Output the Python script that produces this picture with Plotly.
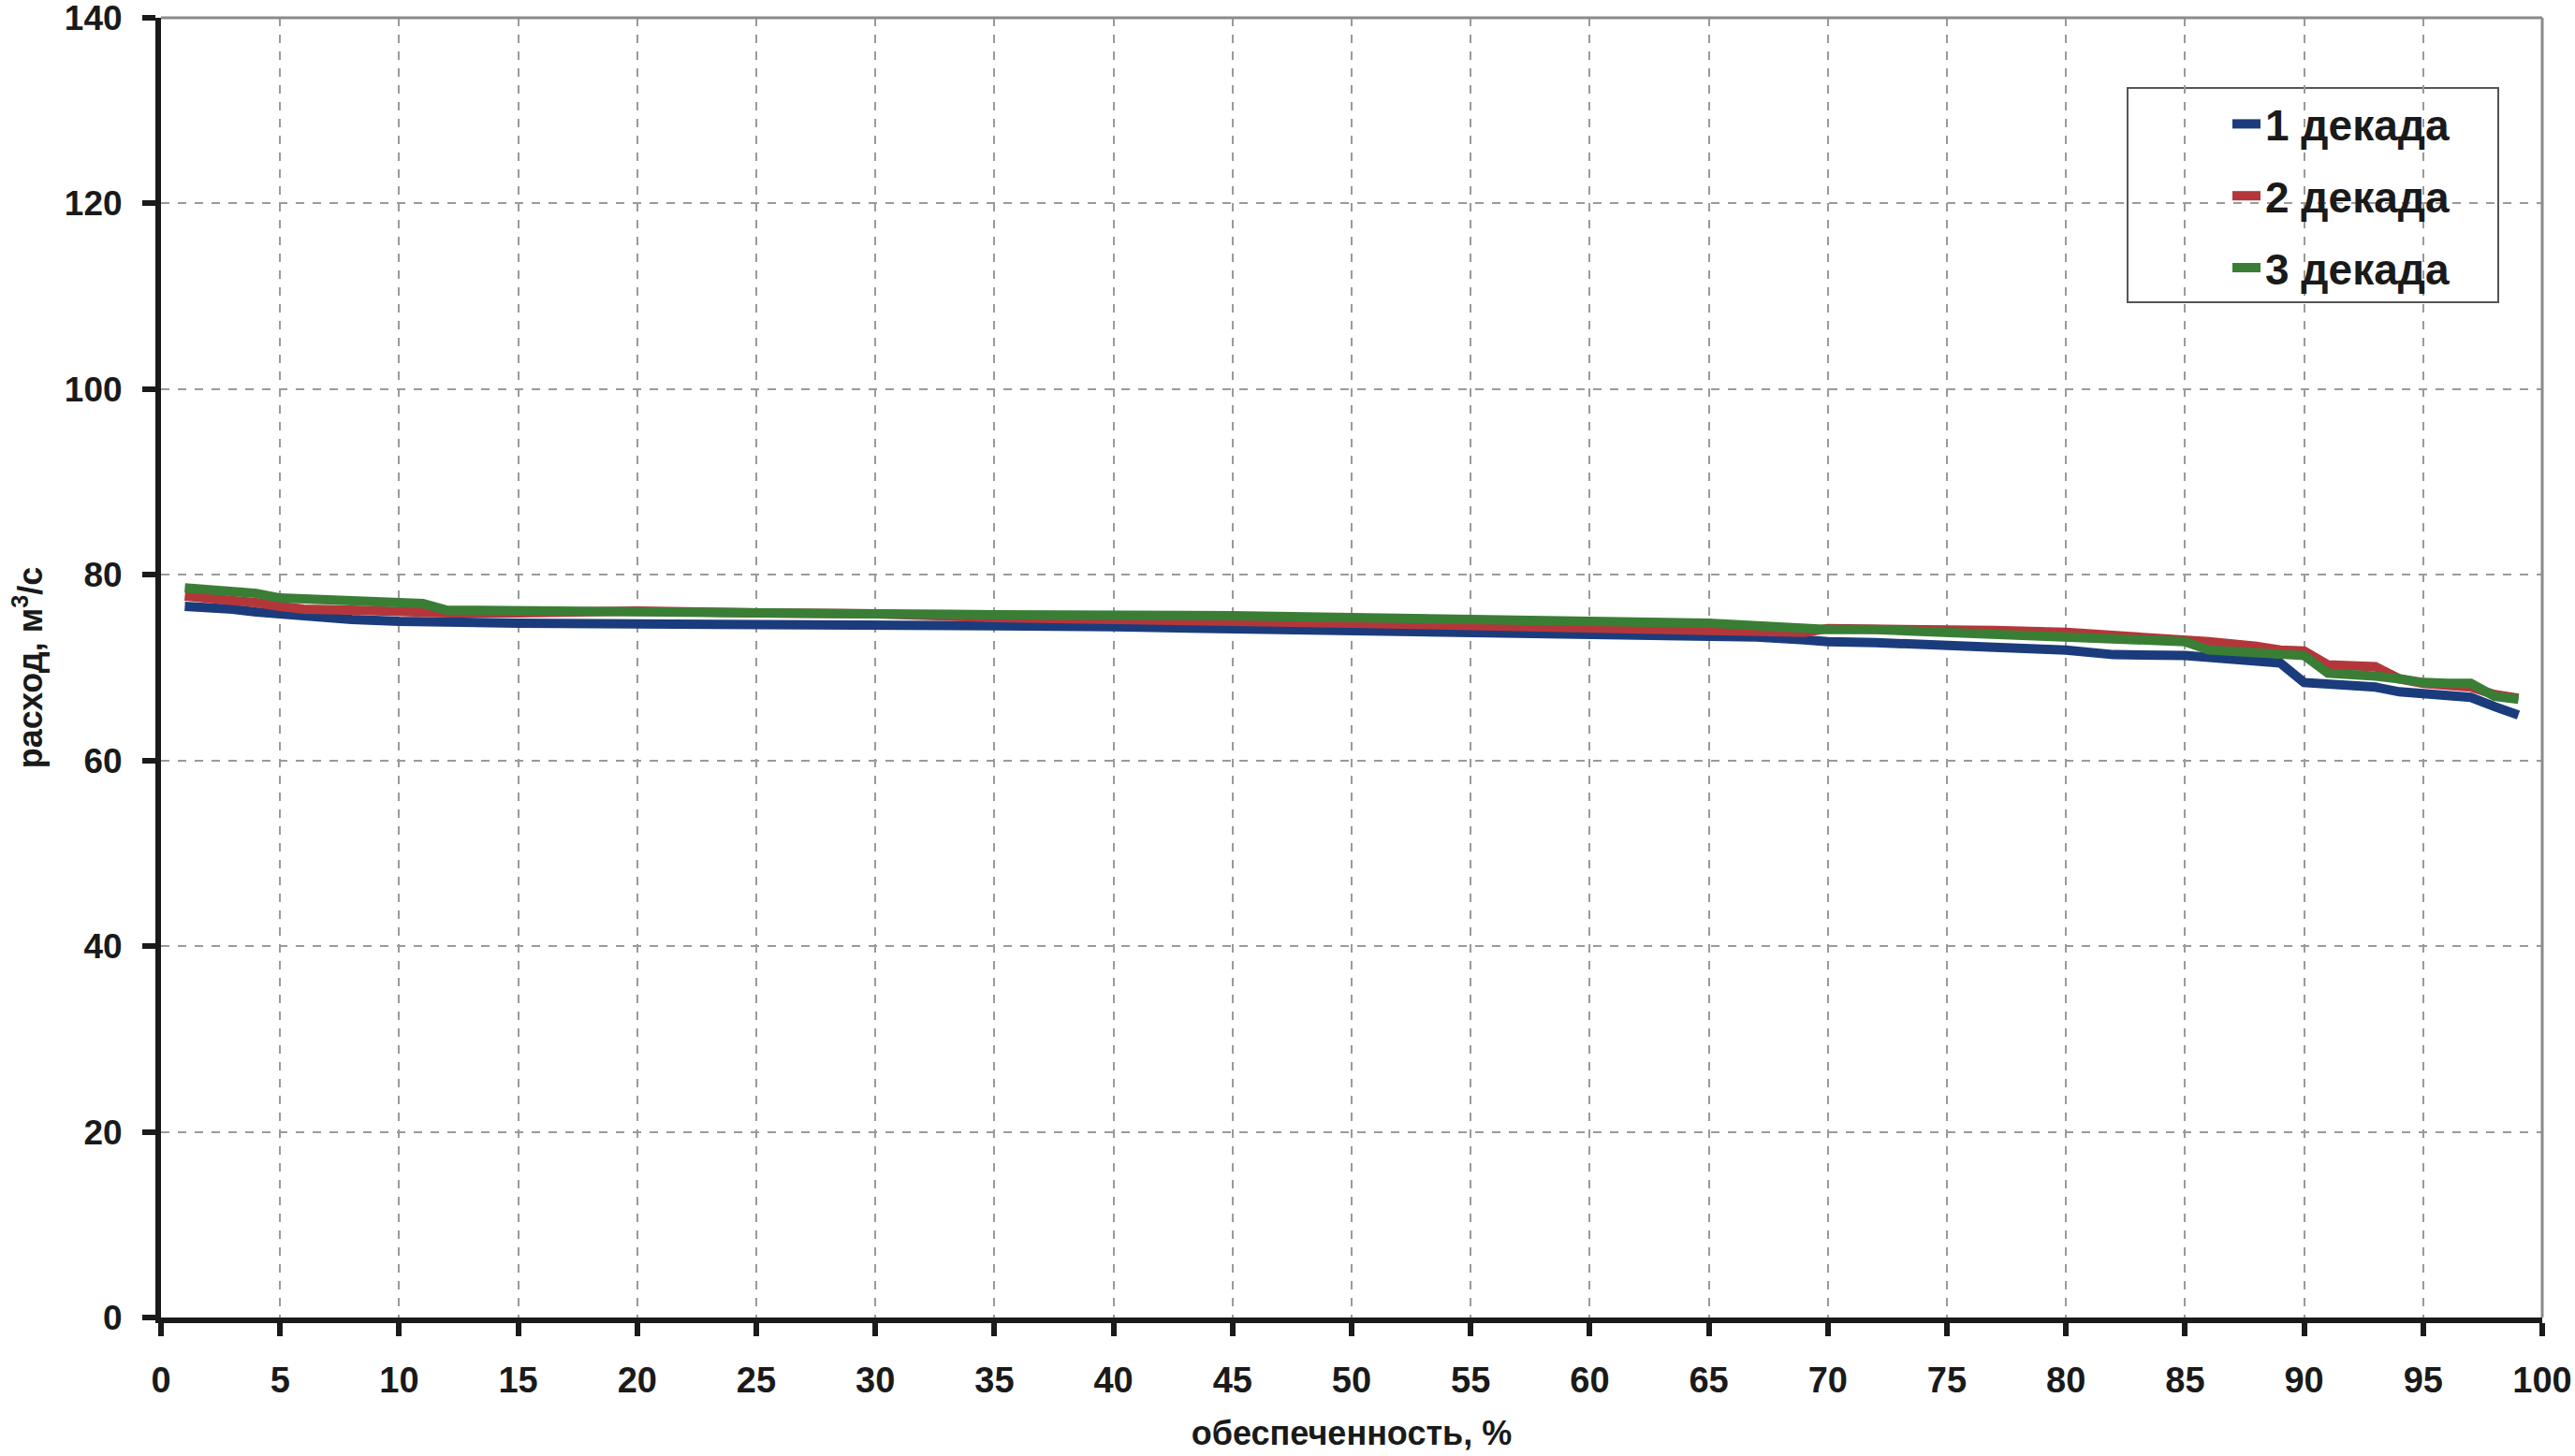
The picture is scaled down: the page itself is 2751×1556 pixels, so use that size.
import plotly.graph_objects as go

# обеспеченность, %
x_pct = [1, 2, 3, 4, 5, 6, 8, 10, 11, 12, 15, 20, 25, 30, 35, 40, 45, 50, 55, 60,
         65, 67, 69, 70, 72, 75, 77, 80, 82, 85, 86, 88, 89, 90, 91, 92, 93, 94,
         95, 96, 97, 98, 99]

dec1 = [76.6, 76.5, 76.3, 76.0, 75.8, 75.4, 75.2, 75.0, 75.0, 74.9, 74.8, 74.7, 74.7,
        74.6, 74.5, 74.4, 74.2, 74.1, 74.0, 73.7, 73.4, 73.3, 73.0, 72.8, 72.7, 72.5,
        72.2, 71.9, 71.4, 71.3, 71.1, 70.7, 70.5, 68.4, 68.2, 68.1, 67.9, 67.4, 67.2,
        67.0, 66.8, 65.8, 64.9]

dec2 = [77.7, 77.5, 77.2, 77.0, 76.6, 76.3, 76.2, 76.0, 75.9, 75.9, 75.9, 76.1, 75.9,
        75.8, 75.4, 75.1, 75.0, 74.8, 74.5, 74.3, 73.9, 73.8, 73.8, 74.2, 74.2, 74.0,
        74.0, 73.8, 73.5, 73.1, 72.8, 72.3, 71.9, 71.8, 70.3, 70.2, 70.1, 68.8, 68.3,
        68.1, 67.9, 67.1, 66.7]

dec3 = [78.6, 78.4, 78.2, 78.0, 77.5, 77.4, 77.3, 77.1, 76.9, 76.2, 76.1, 75.9, 75.8,
        75.8, 75.7, 75.7, 75.6, 75.4, 75.3, 75.0, 74.8, 74.5, 74.2, 74.1, 74.1, 73.8,
        73.6, 73.3, 73.1, 72.8, 71.9, 71.5, 71.4, 71.3, 69.4, 69.3, 69.1, 68.8, 68.4,
        68.3, 68.3, 66.9, 66.6]

series_names = ["1 декада", "2 декада", "3 декада"]
series_colors = ["#1b3c7c", "#b3373a", "#3a7e36"]
x_ticks = list(range(0, 101, 5))
y_ticks = list(range(0, 141, 20))

FONT = "Liberation Sans, Arial, sans-serif"
NARROW = "Liberation Sans Narrow, Arial Narrow, Liberation Sans, Arial, sans-serif"

fig = go.Figure()
for name, ys, col in zip(series_names, [dec1, dec2, dec3], series_colors):
    fig.add_trace(go.Scatter(x=x_pct, y=ys, mode="lines", name=name, legendgroup=name,
                             line=dict(color=col, width=10)))

W, H = 2751, 1556
L, R, T, B = 172, 35, 19, 148
PW, PH = W - L - R, H - T - B
BOT = H - B  # pixel row of the x axis


def fx(px):
    return (px - L) / PW


def fy(py):
    return (BOT - py) / PH


fig.update_layout(
    width=W, height=H, autosize=False,
    margin=dict(l=L, r=R, t=T, b=B, pad=0),
    paper_bgcolor="white", plot_bgcolor="white",
    font=dict(family=FONT, color="#1a1a1a"),
    showlegend=True,
    legend=dict(
        x=fx(2380), y=fy(96),
        xanchor="left", yanchor="top",
        bgcolor="rgba(0,0,0,0)", borderwidth=0,
        font=dict(family=FONT, size=46, color="#1a1a1a", weight="bold"),
        itemwidth=30, tracegroupgap=14,
    ),
    shapes=[
        # legend frame
        dict(type="rect", xref="paper", yref="paper",
             x0=fx(2273), x1=fx(2669), y0=fy(323), y1=fy(94),
             line=dict(color="#555555", width=2), fillcolor="white", layer="below"),
        # top and right plot border
        dict(type="line", xref="x domain", yref="y domain", x0=0, x1=1, y0=1, y1=1,
             line=dict(color="#8a8a8a", width=3)),
        dict(type="line", xref="x domain", yref="y domain", x0=1, x1=1, y0=0, y1=1,
             line=dict(color="#8a8a8a", width=3)),
    ],
)

fig.update_xaxes(
    range=[0, 100], tickvals=x_ticks, ticktext=[str(v) for v in x_ticks],
    automargin=False, ticklabeloverflow="allow",
    showline=True, linecolor="#1a1a1a", linewidth=6,
    ticks="outside", ticklen=14, tickwidth=6, tickcolor="#1a1a1a",
    showgrid=True, gridcolor="#9a9a9a", griddash="dash", gridwidth=2,
    zeroline=False,
    tickfont=dict(family=NARROW, size=38, color="#1a1a1a", weight="bold"),
    ticklabelstandoff=14,
    title=dict(text="обеспеченность, %", standoff=26,
               font=dict(family=FONT, size=36, color="#1a1a1a", weight="bold")),
)
fig.update_yaxes(
    range=[0, 140], tickvals=y_ticks, ticktext=[str(v) for v in y_ticks],
    automargin=False, ticklabeloverflow="allow",
    showline=True, linecolor="#1a1a1a", linewidth=6,
    ticks="outside", ticklen=14, tickwidth=6, tickcolor="#1a1a1a",
    showgrid=True, gridcolor="#9a9a9a", griddash="dash", gridwidth=2,
    zeroline=False,
    tickfont=dict(family=NARROW, size=37, color="#1a1a1a", weight="bold"),
    ticklabelstandoff=14,
    title=dict(text="расход, м<sup>3</sup>/с", standoff=14,
               font=dict(family=FONT, size=36, color="#1a1a1a", weight="bold")),
)

fig.write_html("out.html", config={"displayModeBar": False},
               post_script="document.body.style.margin='0';document.body.style.overflow='hidden';")
